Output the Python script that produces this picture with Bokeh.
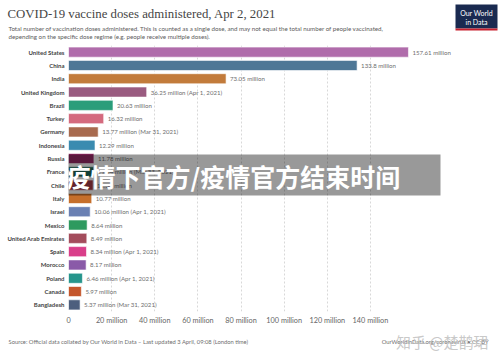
from bokeh.plotting import figure
from bokeh.layouts import column
from bokeh.models import Range1d, FactorRange, FixedTicker, ColumnDataSource, BoxAnnotation, Label
from bokeh.core.properties import value
from bokeh.embed import file_html
from bokeh.resources import INLINE

countries = ["United States", "China", "India", "United Kingdom", "Brazil", "Turkey", "Germany",
             "Indonesia", "Russia", "France", "Chile", "Italy", "Israel", "Mexico",
             "United Arab Emirates", "Spain", "Morocco", "Poland", "Canada", "Bangladesh"]
doses = [157.61, 133.8, 73.05, 36.25, 20.63, 16.32, 13.77, 12.29, 11.78, 11.64, 11.38, 10.77,
         10.06, 8.64, 8.49, 8.34, 8.17, 6.46, 5.97, 5.37]
notes = ["", "", "", " (Apr 1, 2021)", "", "", " (Mar 31, 2021)", "", "", " (Mar 31, 2021)", "", "",
         " (Apr 1, 2021)", "", "", " (Apr 1, 2021)", "", " (Apr 1, 2021)", "", " (Mar 31, 2021)"]
colors = ["#b06cab", "#4e7796", "#c27b3b", "#9a5b80", "#2a9d7a", "#d46a7e", "#a86a4e",
          "#3a8bb0", "#962867", "#1f6a5a", "#a33b48", "#c66f2b", "#6a80b3", "#2e9a5f",
          "#a34c5c", "#d93e8a", "#8a5aa8", "#26958c", "#c4562b", "#4d5f7e"]
tick_values = [0, 20, 40, 60, 80, 100, 120, 140]
tick_labels = ["0", "20 million", "40 million", "60 million", "80 million", "100 million",
               "120 million", "140 million"]

W = 500
HEAD_H = 45
MAIN_H = 284          # canvas rows 45..329
FOOT_H = 353 - HEAD_H - MAIN_H
FL = 68
FB_MAIN = 311 - HEAD_H  # frame bottom inside main figure
FOOT_Y0 = HEAD_H + MAIN_H


def blank(h):
    f = figure(width=W, height=h, output_backend="svg", toolbar_location=None,
               x_range=Range1d(0, W), y_range=Range1d(h, 0), frame_align=False,
               min_border=0, min_border_left=0, min_border_right=0, min_border_top=0,
               min_border_bottom=0, x_axis_type=None, y_axis_type=None)
    f.outline_line_color = None
    f.grid.visible = False
    f.background_fill_color = "white"
    f.border_fill_color = "white"
    return f


def txt(f, s, x, y, size, color, font="Lato", style="normal", align="left", alpha=1.0):
    f.text(x=[x], y=[y], text=[s], text_font_size=size, text_color=color,
           text_font=value(font), text_font_style=style, text_align=align,
           text_baseline="middle", text_alpha=alpha)


# ---------- header ----------
head = blank(HEAD_H)
txt(head, "COVID-19 vaccine doses administered, Apr 2, 2021", 7, 13.5, "12.8px", "#454545",
    font="Liberation Serif")
txt(head, "Total number of vaccination doses administered. This is counted as a single dose, and may not equal the total number of people vaccinated,",
    8, 27.5, "6.2px", "#5b5b5b")
txt(head, "depending on the specific dose regime (e.g. people receive multiple doses).", 8, 35.5, "6.2px", "#5b5b5b")
head.quad(left=[455], right=[497], top=[4], bottom=[28], fill_color="#1a2a50", line_color=None)
head.quad(left=[455], right=[497], top=[28], bottom=[30], fill_color="#c8202e", line_color=None)
txt(head, "Our World", 476, 12.5, "7px", "white", align="center")
txt(head, "in Data", 476, 21, "7px", "white", align="center")

# ---------- main ----------
labels = [f"{d:g} million{n}" for d, n in zip(doses, notes)]
src = ColumnDataSource(dict(country=countries, doses=doses, color=colors, label=labels))

p = figure(width=W, height=MAIN_H, output_backend="svg", toolbar_location=None,
           y_range=FactorRange(*reversed(countries)),
           x_range=Range1d(0, (W - FL) / 2.157), frame_align=False,
           min_border_left=FL, min_border_right=0, min_border_top=0,
           min_border_bottom=MAIN_H - FB_MAIN)
p.outline_line_color = None
p.background_fill_color = "white"
p.border_fill_color = "white"

p.hbar(y="country", right="doses", height=0.76, color="color", source=src,
       line_color="white", line_width=0.6)
p.text(x="doses", y="country", text="label", source=src, x_offset=4,
       text_baseline="middle", text_align="left", text_font_size="6.1px",
       text_color="#6e6e6e", text_font=value("Lato"))

p.xaxis.ticker = FixedTicker(ticks=tick_values)
p.xaxis.major_label_overrides = {v: t for v, t in zip(tick_values, tick_labels)}
p.xaxis.axis_line_color = None
p.xaxis.major_tick_line_color = None
p.xaxis.minor_tick_line_color = None
p.xaxis.major_tick_out = 0
p.xaxis.major_tick_in = 0
p.xaxis.minor_tick_out = 0
p.xaxis.major_label_text_font = "Lato"
p.xaxis.major_label_text_font_size = "7.3px"
p.xaxis.major_label_text_color = "#666666"
p.xaxis.major_label_standoff = 4

p.yaxis.axis_line_color = None
p.yaxis.major_tick_line_color = None
p.yaxis.minor_tick_line_color = None
p.yaxis.major_tick_out = 0
p.yaxis.major_tick_in = 0
p.yaxis.minor_tick_out = 0
p.yaxis.major_label_text_font = "Lato"
p.yaxis.major_label_text_font_style = "bold"
p.yaxis.major_label_text_font_size = "6px"
p.yaxis.major_label_text_color = "#444444"
p.yaxis.major_label_standoff = 4

p.xgrid.grid_line_color = "#d8d8d8"
p.xgrid.grid_line_dash = "2 2"
p.ygrid.grid_line_color = None

# overlay band
p.add_layout(BoxAnnotation(left=58 - FL, right=440 - FL, top=FB_MAIN - (154 - HEAD_H),
                           bottom=FB_MAIN - (195 - HEAD_H),
                           left_units="screen", right_units="screen", top_units="screen",
                           bottom_units="screen", fill_color="black", fill_alpha=0.4, line_color=None))
p.add_layout(Label(x=65 - FL, y=FB_MAIN - (175 - HEAD_H), x_units="screen", y_units="screen",
                   text="疫情下官方/疫情官方结束时间", text_font_size="25px", text_color="white",
                   text_font="Noto Sans CJK SC", text_font_style="bold", text_baseline="middle"))

# ---------- footer ----------
foot = blank(FOOT_H)
txt(foot, "Source: Official data collated by Our World in Data \u2013 Last updated 3 April, 09:08 (London time)",
    8, 341 - FOOT_Y0, "5.8px", "#6e6e6e")
txt(foot, "OurWorldInData.org/coronavirus \u2022 CC BY", 488, 341 - FOOT_Y0, "5.8px", "#6e6e6e", align="right")
txt(foot, "知乎 @楚鹊珺", 488, 340.5 - FOOT_Y0, "15px", "#bbbbbb", font="Noto Sans CJK SC", align="right", alpha=0.8)

layout = column(head, p, foot, spacing=0)
open("out.html", "w").write(file_html(layout, INLINE))
